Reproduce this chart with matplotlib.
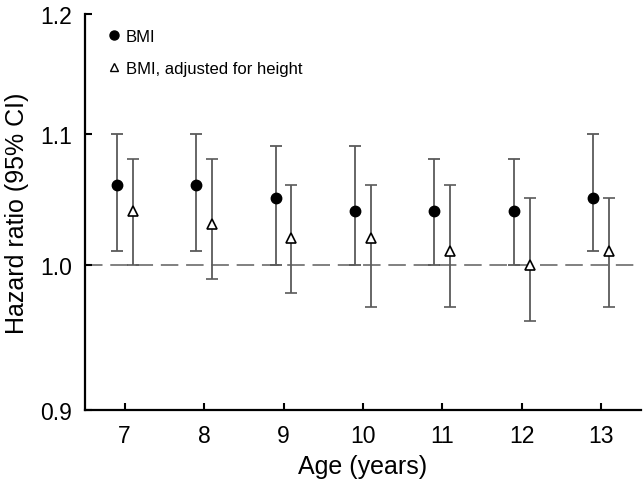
import matplotlib
matplotlib.use("Agg")
import matplotlib.pyplot as plt
from matplotlib.lines import Line2D
import numpy as np

plt.rcParams["font.family"] = ["Liberation Sans", "DejaVu Sans"]

# hazard ratios
ages = [7, 8, 9, 10, 11, 12, 13]
bmi_hr = [1.06, 1.06, 1.05, 1.04, 1.04, 1.04, 1.05]
bmi_lo = [1.01, 1.01, 1.00, 1.00, 1.00, 1.00, 1.01]
bmi_hi = [1.10, 1.10, 1.09, 1.09, 1.08, 1.08, 1.10]
adj_hr = [1.04, 1.03, 1.02, 1.02, 1.01, 1.00, 1.01]
adj_lo = [1.00, 0.99, 0.98, 0.97, 0.97, 0.96, 0.97]
adj_hi = [1.08, 1.08, 1.06, 1.06, 1.06, 1.05, 1.05]
y_ticks = [0.9, 1.0, 1.1, 1.2]

fig = plt.figure(figsize=(6.43, 4.85), dpi=100)
ax = fig.add_axes([0.132, 0.153, 0.865, 0.816])

x = np.array(ages)
bmi_hr = np.array(bmi_hr)
adj_hr = np.array(adj_hr)

ax.axhline(1.0, color="#808080", lw=1.4, dashes=(9, 4), zorder=1)

ax.errorbar(x - 0.1, bmi_hr,
            yerr=[bmi_hr - np.array(bmi_lo), np.array(bmi_hi) - bmi_hr],
            fmt="o", color="#5a5a5a", ecolor="#5a5a5a", elinewidth=1.3,
            capsize=4.5, capthick=1.3, mfc="black", mec="black", ms=7.5, zorder=3)
ax.errorbar(x + 0.1, adj_hr,
            yerr=[adj_hr - np.array(adj_lo), np.array(adj_hi) - adj_hr],
            fmt="^", color="#5a5a5a", ecolor="#5a5a5a", elinewidth=1.3,
            capsize=4.5, capthick=1.3, mfc="white", mec="black", mew=1.2,
            ms=7.5, zorder=3)

ax.set_yscale("log")
ax.set_ylim(0.9, 1.2)
ax.set_yticks(y_ticks)
ax.set_yticklabels([f"{t:.1f}" for t in y_ticks])
ax.minorticks_off()
ax.set_xlim(6.5, 13.5)
ax.set_xticks(ages)

for s in ["top", "right"]:
    ax.spines[s].set_visible(False)
for s in ["left", "bottom"]:
    ax.spines[s].set_linewidth(1.6)
ax.tick_params(direction="in", length=5, width=1.5, labelsize=16.5)
ax.tick_params(axis="x", pad=10)
ax.tick_params(axis="y", pad=9)

ax.set_xlabel("Age (years)", fontsize=18, labelpad=5)
ax.set_ylabel("Hazard ratio (95% CI)", fontsize=18, labelpad=8)

handles = [
    Line2D([], [], ls="none", marker="o", color="black", ms=6.5),
    Line2D([], [], ls="none", marker="^", mfc="white", mec="black", mew=1.0, ms=6),
]
ax.legend(handles, ["BMI", "BMI, adjusted for height"], loc="upper left",
          bbox_to_anchor=(0.008, 1.0), frameon=False, fontsize=12,
          handletextpad=0.1, handlelength=1.2, labelspacing=1.0)

fig.savefig("out.png", dpi=100)
